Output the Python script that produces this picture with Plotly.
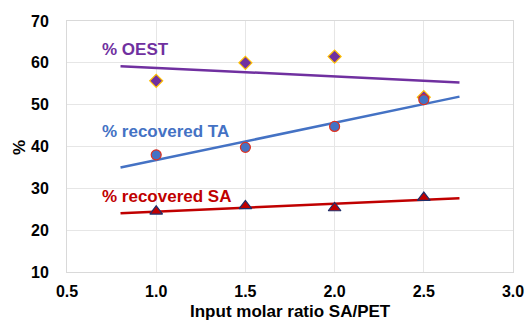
import numpy as np
import plotly.graph_objects as go

# Input molar ratio SA/PET
ratio = [1.0, 1.5, 2.0, 2.5]
oest = [55.7, 60.0, 61.5, 51.8]
recovered_ta = [38.0, 39.8, 44.8, 51.2]
recovered_sa = [24.5, 25.8, 25.3, 27.8]

# range over which the linear trendlines are drawn
trend_x = [0.8, 2.7]

FONT = "Liberation Sans, Arial, sans-serif"

series = [
    dict(name="% OEST", y=oest, line="#7030A0", symbol="diamond",
         fill="#7030A0", edge="#FFC000", size=10, label_y=63.1),
    dict(name="% recovered TA", y=recovered_ta, line="#4472C4", symbol="circle",
         fill="#4472C4", edge="#E0301E", size=10, label_y=43.6),
    dict(name="% recovered SA", y=recovered_sa, line="#C00000", symbol="triangle-up",
         fill="#C00000", edge="#1F2F6B", size=11, label_y=28.0),
]

fig = go.Figure()
for s in series:
    slope, icpt = np.polyfit(ratio, s["y"], 1)
    tx = np.array(trend_x)
    fig.add_trace(go.Scatter(
        x=tx, y=slope * tx + icpt, mode="lines",
        line=dict(color=s["line"], width=2.5), showlegend=False, hoverinfo="skip"))
    fig.add_trace(go.Scatter(
        x=ratio, y=s["y"], mode="markers", name=s["name"], showlegend=False,
        marker=dict(symbol=s["symbol"], size=s["size"], color=s["fill"],
                    line=dict(color=s["edge"], width=1.2))))
    fig.add_annotation(x=0.685, y=s["label_y"], text=f"<b>{s['name']}</b>",
                       showarrow=False, xanchor="left", yanchor="middle",
                       font=dict(family=FONT, size=17, color=s["line"]))

axis_common = dict(
    showgrid=True, gridcolor="#E6E6E6", gridwidth=1,
    showline=True, linecolor="#D9D9D9", linewidth=1, mirror=True,
    zeroline=False, ticks="", automargin=False,
    tickfont=dict(family=FONT, size=16, color="black", weight="bold"),
)

fig.update_xaxes(range=[0.5, 3.0], dtick=0.5, tickformat=".1f",
                 ticklabelstandoff=5, **axis_common)
fig.update_yaxes(range=[10, 70], dtick=10,
                 ticklabelstandoff=14, **axis_common)

# axis titles
fig.add_annotation(xref="paper", yref="paper", x=0.5, y=-0.199,
                   text="<b>Input molar ratio SA/PET</b>", showarrow=False,
                   xanchor="center", yanchor="bottom", borderpad=0,
                   font=dict(family=FONT, size=17, color="black"))
fig.add_annotation(xref="paper", yref="paper", x=-0.106, y=0.497,
                   text="<b>%</b>", showarrow=False, textangle=-90,
                   xanchor="center", yanchor="middle",
                   font=dict(family=FONT, size=17, color="black"))

fig.update_layout(
    width=526, height=322,
    margin=dict(l=67, r=13, t=21, b=50),
    paper_bgcolor="white", plot_bgcolor="white",
    font=dict(family=FONT),
)

fig.write_html("out.html")
